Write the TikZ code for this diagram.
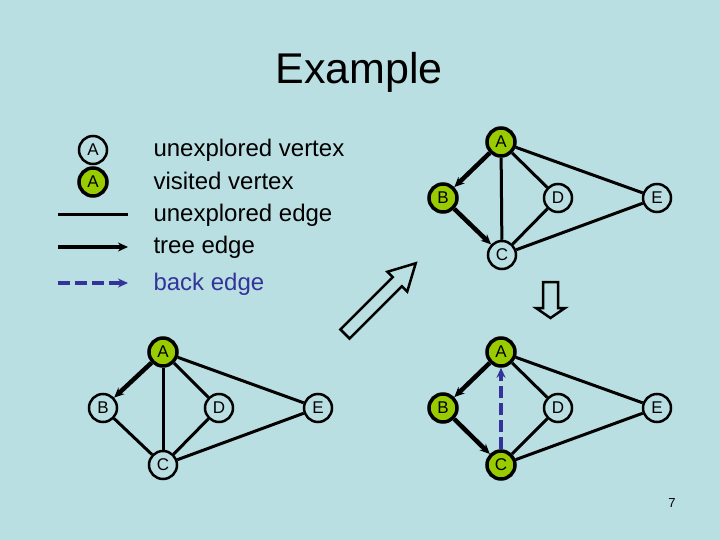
\documentclass[tikz,border=0pt]{standalone}
\usepackage{fontspec}
\setmainfont{Liberation Sans}
\usetikzlibrary{arrows.meta}
\definecolor{slide}{HTML}{BADFE3}
\definecolor{visit}{HTML}{99CC00}
\definecolor{backblue}{HTML}{333399}

\begin{document}
\begin{tikzpicture}[
  x=1pt, y=-1pt,
  every node/.style={font=\fontsize{17}{19}\selectfont},
  vtx/.style   ={circle, draw=black, line width=2.5pt, fill=slide, minimum size=28pt, inner sep=0pt},
  seen/.style  ={vtx, fill=visit, line width=3.5pt},
  plain/.style ={line width=3pt},
  tree/.style  ={line width=4.5pt, -{Stealth[length=10pt, width=9pt]}},
  backe/.style ={line width=4pt, backblue, dash pattern=on 12pt off 5pt, -{Stealth[length=10pt, width=9pt]}},
  hollow/.style={draw, line width=2.5pt, fill=slide, line join=miter},
  legtext/.style={anchor=base west, font=\fontsize{24}{28}\selectfont},
]

% ── Slide background ──
\fill[slide] (0,0) rectangle (720,540);
\useasboundingbox (0,0) rectangle (720,540);

% ── Title ──
\node[anchor=base, font=\fontsize{43}{50}\selectfont] (title) at (359,84) {Example};

% ── Legend ──
\node[vtx]  (legA) at (93,150) {A};
\node[seen] (legV) at (93,182) {A};
\coordinate (l1s) at (58,215);  \coordinate (l1e) at (128,215);
\coordinate (l2s) at (58,247);  \coordinate (l2e) at (128,247);
\coordinate (l3s) at (58,283);  \coordinate (l3e) at (128,283);
\draw[plain] (l1s) -- (l1e);
\draw[tree, line width=3.5pt] (l2s) -- (l2e);
\draw[backe, line width=3.5pt] (l3s) -- (l3e);
\node[legtext] (t1) at (150,157) {unexplored vertex};
\node[legtext] (t2) at (150,190) {visited vertex};
\node[legtext] (t3) at (150,222) {unexplored edge};
\node[legtext] (t4) at (150,253) {tree edge};
\node[legtext, text=backblue] (t5) at (150,290) {back edge};

% ── Step 1 (bottom left): A -> B ──
\node[seen] (lA) at (163,352) {A};
\node[vtx]  (lB) at (103,408) {B};
\node[vtx]  (lD) at (219,408) {D};
\node[vtx]  (lE) at (318,408) {E};
\node[vtx]  (lC) at (163,465) {C};
\foreach \u/\v in {lA/lC, lA/lD, lA/lE, lB/lC, lC/lD, lC/lE} {
  \draw[plain] (\u) -- (\v);
}
\draw[tree] (lA) -- (lB);

% ── Step 2 (top right): B -> C ──
\node[seen] (tA) at (501,142) {A};
\node[seen] (tB) at (443,198) {B};
\node[vtx]  (tD) at (558,198) {D};
\node[vtx]  (tE) at (657,198) {E};
\node[vtx]  (tC) at (502,255) {C};
\foreach \u/\v in {tA/tC, tA/tD, tA/tE, tC/tD, tC/tE} {
  \draw[plain] (\u) -- (\v);
}
\draw[tree] (tA) -- (tB);
\draw[tree] (tB) -- (tC);

% ── Step 3 (bottom right): back edge C -> A ──
\node[seen] (rA) at (501,352) {A};
\node[seen] (rB) at (443,408) {B};
\node[vtx]  (rD) at (558,408) {D};
\node[vtx]  (rE) at (657,408) {E};
\node[seen] (rC) at (501,465) {C};
\foreach \u/\v in {rA/rD, rA/rE, rC/rD, rC/rE} {
  \draw[plain] (\u) -- (\v);
}
\draw[tree] (rA) -- (rB);
\draw[tree] (rB) -- (rC);
\draw[backe] (rC) -- (rA);

% ── Hollow step arrows ──
\draw[hollow, shift={(345,334)}, rotate=45]
  (0,-6.5) -- (74,-6.5) -- (74,-14) -- (100,0) -- (74,14) -- (74,6.5) -- (0,6.5) -- cycle;
\draw[hollow]
  (543,282) -- (558,282) -- (558,308) -- (565,308) -- (550.5,318)
  -- (536,308) -- (543,308) -- cycle;

% ── Page number ──
\node[font=\fontsize{13}{15}\selectfont] (page) at (672,503) {7};

\end{tikzpicture}
\end{document}
